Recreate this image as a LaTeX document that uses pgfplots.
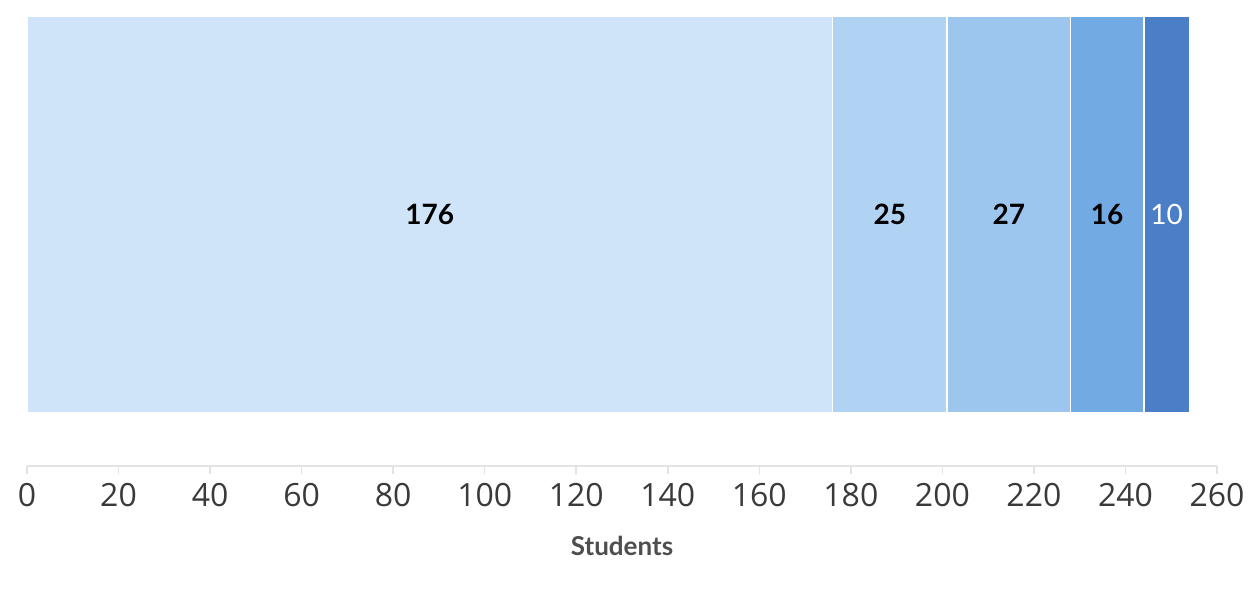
\documentclass[border=0pt]{standalone}
\usepackage{fontspec}
\setmainfont{Lato}
\newfontfamily\tickfont{Open Sans}
\usepackage{pgfplots}
\pgfplotsset{compat=1.18}

\definecolor{c1}{HTML}{CFE4F8}
\definecolor{c2}{HTML}{B0D3F3}
\definecolor{c3}{HTML}{9DC6EE}
\definecolor{c4}{HTML}{72ABE3}
\definecolor{c5}{HTML}{4A7EC6}
\definecolor{tick}{HTML}{3A3A3A}
\definecolor{axisgray}{HTML}{E3E3E3}

\begin{document}
\begin{tikzpicture}
\begin{axis}[
    scale only axis,
    width=595pt, height=225pt,
    xbar stacked,
    bar width=198.5pt,
    xmin=0, xmax=260,
    ymin=-251.5, ymax=198.5,
    xtick={0,20,...,260},
    ytick=\empty,
    axis y line=none,
    axis x line*=bottom,
    x axis line style={axisgray, line width=0.8pt, -},
    tick align=outside,
    major tick length=4pt,
    tick style={axisgray, line width=0.8pt},
    /pgf/number format/assume math mode=true,
    xticklabel style={font=\tickfont\fontsize{16}{19}\selectfont, text=tick, yshift=-1pt},
    xlabel={\textbf{Students}},
    xlabel style={font=\fontsize{13}{15}\selectfont, text=tick!90, yshift=-8pt},
    nodes near coords,
    every node near coord/.append style={
        anchor=center, font=\fontsize{14}{16}\selectfont\bfseries},
    clip=false,
]
\addplot[fill=c1, draw=white, line width=0.8pt] coordinates {(176,0)};
\addplot[fill=c2, draw=white, line width=0.8pt] coordinates {(25,0)};
\addplot[fill=c3, draw=white, line width=0.8pt] coordinates {(27,0)};
\addplot[fill=c4, draw=white, line width=0.8pt] coordinates {(16,0)};
\addplot[fill=c5, draw=white, line width=0.8pt, every node near coord/.append style={text=white, font=\fontsize{14}{16}\selectfont}] coordinates {(10,0)};
\coordinate (ll) at (rel axis cs:0,0);
\coordinate (ur) at (rel axis cs:1,1);
\end{axis}
\path[use as bounding box] ([shift={(-13.5pt,-61pt)}]ll) rectangle ([shift={(19pt,8pt)}]ur);
\end{tikzpicture}
\end{document}
